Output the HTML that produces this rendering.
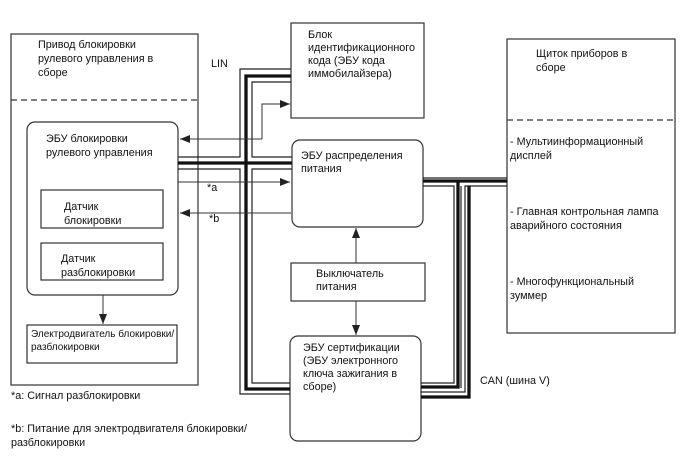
<!DOCTYPE html>
<html><head><meta charset="utf-8"><style>
html,body{margin:0;padding:0;background:#fff}
svg{display:block}
text{font-family:"Liberation Sans",sans-serif;font-size:10.8px;fill:#111}
</style></head><body>
<svg width="688" height="463" viewBox="0 0 688 463" xmlns="http://www.w3.org/2000/svg">
<defs>
<marker id="ah" markerWidth="10" markerHeight="8" refX="10" refY="4" orient="auto" markerUnits="userSpaceOnUse">
<path d="M0,0 L10,4 L0,8 z" fill="#222"/></marker>
</defs>
<g fill="none" stroke="#333" stroke-width="1.2">
<rect x="11" y="34" width="187" height="351"/>
<line x1="11" y1="100" x2="198" y2="100" stroke-dasharray="6,4"/>
<rect x="27" y="122" width="151" height="173" rx="8"/>
<rect x="41" y="190" width="122" height="38"/>
<rect x="41" y="243" width="122" height="37"/>
<rect x="27" y="325" width="150" height="38"/>
<rect x="291" y="23" width="133" height="95"/>
<rect x="292" y="140" width="131" height="87" rx="8"/>
<rect x="291" y="263" width="134" height="38"/>
<rect x="290" y="336" width="131" height="105" rx="8"/>
<rect x="507" y="39" width="168" height="294"/>
<line x1="507" y1="120" x2="675" y2="120" stroke-dasharray="6,4"/>
</g>
<g fill="none" stroke="#222" stroke-width="1.2">
<path d="M291,69 H240 V157 H178"/>
<path d="M178,169 H240 V394 H290"/>
<path d="M291,82 H252 V157 H292"/>
<path d="M292,169 H252 V383 H290"/>
<path d="M423,178 H507"/>
<path d="M423,186 H454 V383 H421"/>
<path d="M507,186 H465 V392 H421"/>
<path d="M461,186 V388"/>
</g>
<g fill="none" stroke="#111" stroke-width="3.3">
<path d="M291,76 H246 V389 H290"/>
<path d="M178,163 H292"/>
<path d="M423,181 H507"/>
<path d="M458,181 V387 H421"/>
<path d="M469,186 V397 H421"/>
</g>
<g fill="none" stroke="#333" stroke-width="1">
<path d="M262,139 H180" marker-end="url(#ah)"/>
<path d="M262,139 V104 H290" marker-end="url(#ah)"/>
<path d="M178,182 H290" marker-end="url(#ah)"/>
<path d="M291,213 H180" marker-end="url(#ah)"/>
<path d="M103,295 V324" marker-end="url(#ah)"/>
<path d="M356,263 V228" marker-end="url(#ah)"/>
<path d="M356,301 V335" marker-end="url(#ah)"/>
</g>
<text x="38" y="48">Привод блокировки</text>
<text x="38" y="62">рулевого управления в</text>
<text x="38" y="76">сборе</text>
<text x="46" y="142">ЭБУ блокировки</text>
<text x="46" y="156">рулевого управления</text>
<text x="64" y="210">Датчик</text>
<text x="64" y="224">блокировки</text>
<text x="61" y="262">Датчик</text>
<text x="61" y="276">разблокировки</text>
<text x="31" y="337" style="font-size:10px">Электродвигатель блокировки/</text>
<text x="31" y="350" style="font-size:10px">разблокировки</text>
<text x="211" y="67">LIN</text>
<text x="207" y="191">*a</text>
<text x="209" y="222">*b</text>
<text x="308" y="38">Блок</text>
<text x="308" y="51">идентификационного</text>
<text x="308" y="64">кода (ЭБУ кода</text>
<text x="308" y="77">иммобилайзера)</text>
<text x="301" y="159">ЭБУ распределения</text>
<text x="301" y="172">питания</text>
<text x="316" y="277">Выключатель</text>
<text x="316" y="290">питания</text>
<text x="303" y="351">ЭБУ сертификации</text>
<text x="303" y="364">(ЭБУ электронного</text>
<text x="303" y="377">ключа зажигания в</text>
<text x="303" y="390">сборе)</text>
<text x="536" y="57">Щиток приборов в</text>
<text x="536" y="71">сборе</text>
<text x="510" y="145">- Мультиинформационный</text>
<text x="510" y="159">дисплей</text>
<text x="510" y="215">- Главная контрольная лампа</text>
<text x="510" y="229">аварийного состояния</text>
<text x="510" y="285">- Многофункциональный</text>
<text x="510" y="299">зуммер</text>
<text x="480" y="384">CAN (шина V)</text>
<text x="11" y="399">*a: Сигнал разблокировки</text>
<text x="11" y="432">*b: Питание для электродвигателя блокировки/</text>
<text x="11" y="446">разблокировки</text>
</svg>
</body></html>
